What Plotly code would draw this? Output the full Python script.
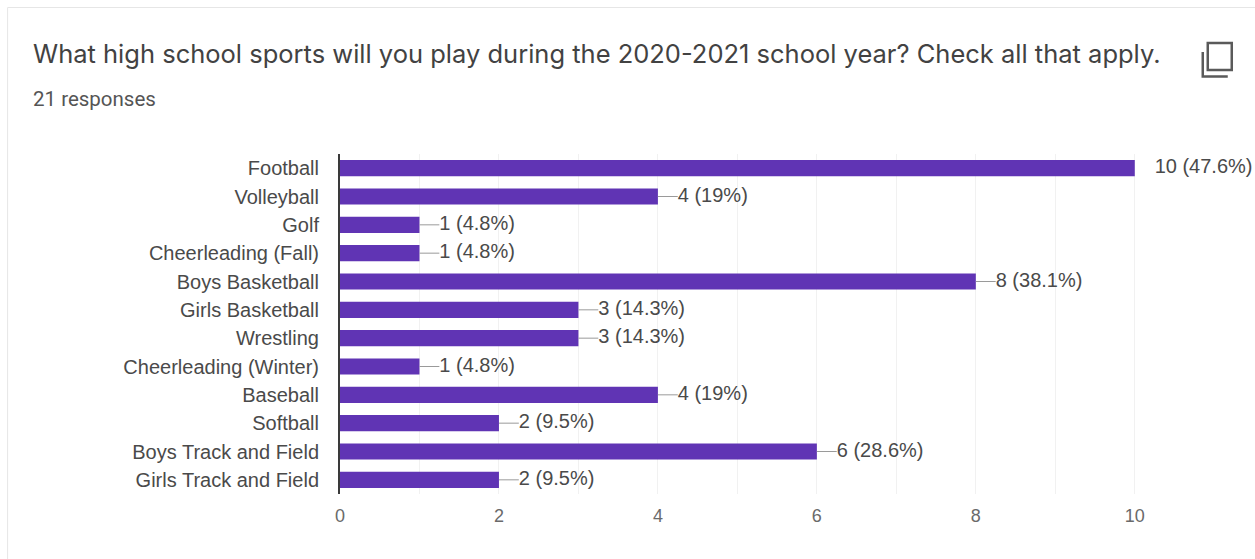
import plotly.graph_objects as go

# Survey responses, top to bottom
sports = ["Football", "Volleyball", "Golf", "Cheerleading (Fall)", "Boys Basketball",
          "Girls Basketball", "Wrestling", "Cheerleading (Winter)", "Baseball", "Softball",
          "Boys Track and Field", "Girls Track and Field"]
counts = [10, 4, 1, 1, 8, 3, 3, 1, 4, 2, 6, 2]
percents = ["47.6%", "19%", "4.8%", "4.8%", "38.1%", "14.3%", "14.3%", "4.8%", "19%", "9.5%", "28.6%", "9.5%"]
x_ticks = [0, 2, 4, 6, 8, 10]
x_minor_grid = [1, 3, 5, 7, 9]
question = "What high school sports will you play during the 2020-2021 school year? Check all that apply."
responses = "21 responses"

W, H = 1255, 559
L, T, B = 340, 154, 65
X_MAX = 11.5  # room to the right of the longest bar for its label
R = W - L - 79.5 * X_MAX
PURPLE = "#6034b4"
LABEL_FONT = "Liberation Sans"
LEADER = 0.25  # leader line length, in axis units

labels = [f"{c} ({p})" for c, p in zip(counts, percents)]


def px(x):
    return (x - L) / (W - L - R)


def py(y):
    return 1 - (y - T) / (H - T - B)


fig = go.Figure()

fig.add_bar(
    y=sports, x=counts, orientation="h", marker=dict(color=PURPLE, line_width=0),
    error_x=dict(type="data", symmetric=False, color="#9a9a9a", thickness=1, width=0,
                 array=[0 if c == max(counts) else LEADER for c in counts], arrayminus=[0] * len(counts)),
    showlegend=False,
)
fig.add_scatter(
    y=sports, x=[c + LEADER for c in counts], mode="text", text=labels,
    textposition="middle right", cliponaxis=False,
    textfont=dict(family=LABEL_FONT, size=20, color="#4a4a4a"), showlegend=False,
)

card = dict(type="rect", xref="paper", yref="paper", x0=px(7.5), x1=px(1262), y0=py(7.5), y1=py(570),
            line=dict(color="#e6e6e6", width=1), fillcolor="rgba(0,0,0,0)", layer="below")
# Copy icon beside the question
icon = [
    dict(type="rect", xref="paper", yref="paper", x0=px(1208), x1=px(1232), y0=py(43), y1=py(70),
         line=dict(color="#5a5a5a", width=2.5), fillcolor="rgba(0,0,0,0)"),
    dict(type="path", xref="paper", yref="paper",
         path=f"M {px(1203)} {py(52)} L {px(1203)} {py(76.5)} L {px(1228)} {py(76.5)}",
         line=dict(color="#5a5a5a", width=2.5)),
]

fig.update_layout(
    width=W, height=H, autosize=False,
    margin=dict(l=L, r=R, t=T, b=B),
    paper_bgcolor="white", plot_bgcolor="white",
    bargap=0.43, shapes=[card] + icon,
    xaxis=dict(range=[0, X_MAX], tickvals=x_ticks, showgrid=True, gridcolor="#f1f1f1", gridwidth=1,
               minor=dict(tickvals=x_minor_grid, showgrid=True, gridcolor="#f1f1f1", gridwidth=1, ticks=""),
               zeroline=False, showline=False, ticks="", ticklen=0, ticklabelstandoff=9,
               tickfont=dict(family=LABEL_FONT, size=18, color="#6a6a6a")),
    yaxis=dict(range=[11.5, -0.5], showgrid=False, zeroline=False, showline=True,
               linecolor="#3a3a3a", linewidth=2, ticks="", ticklen=0, ticklabelstandoff=15,
               tickfont=dict(family=LABEL_FONT, size=20, color="#4a4a4a")),
    annotations=[
        dict(text=question, xref="paper", yref="paper", x=px(31), y=py(54), xanchor="left", yanchor="middle",
             showarrow=False, font=dict(family="Inter", size=25.5, color="#424242")),
        dict(text=responses, xref="paper", yref="paper", x=px(31), y=py(99), xanchor="left", yanchor="middle",
             showarrow=False, font=dict(family="Roboto", size=20.5, color="#555555")),
    ],
)

fig.write_html("out.html", config=dict(displayModeBar=False))
